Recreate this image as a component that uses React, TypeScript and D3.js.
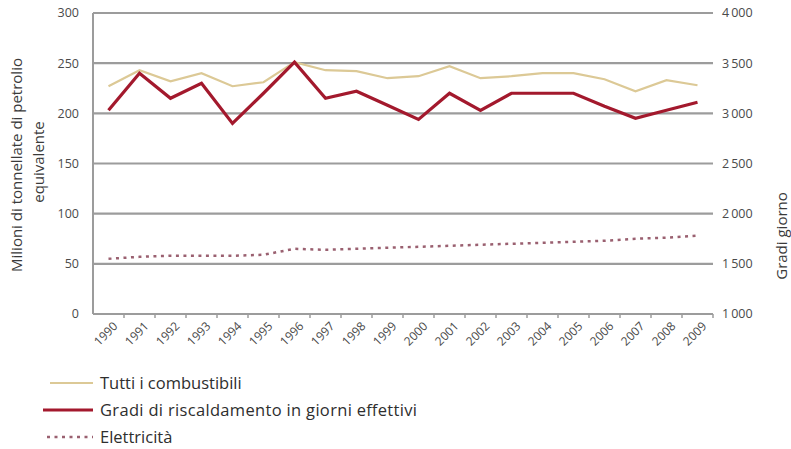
import React from "react";
import * as d3 from "d3";

const years = ["1990","1991","1992","1993","1994","1995","1996","1997","1998","1999","2000","2001","2002","2003","2004","2005","2006","2007","2008","2009"];
const tuttiCombustibili = [227,243,232,240,227,231,251,243,242,235,237,247,235,237,240,240,234,222,233,228];
const gradiGiorno = [3030,3400,3150,3300,2900,3200,3510,3150,3220,3080,2940,3200,3030,3200,3200,3200,3070,2950,3030,3110];
const elettricita = [55,57,58,58,58,59,65,64,65,66,67,68,69,70,71,72,73,75,76,78];
const leftTicks = [0,50,100,150,200,250,300];
const rightTicks = [1000,1500,2000,2500,3000,3500,4000];
const legendLabels = ["Tutti i combustibili","Gradi di riscaldamento in giorni effettivi","Elettricità"];

const W = 791, H = 449;
const X0 = 93, X1 = 713, YT = 13, YB = 314;
const FONT = "'Open Sans', 'Noto Sans', sans-serif";
const TAN = "#dcc996";
const RED = "#a3192d";
const DOT = "#9a6070";
const GRID = "#9c9c9c";

export default function App() {
  const x = d3.scaleBand<string>().domain(years).range([X0, X1]);
  const yL = d3.scaleLinear().domain([0, 300]).range([YB, YT]);
  const yR = d3.scaleLinear().domain([1000, 4000]).range([YB, YT]);
  const cx = (y: string) => (x(y) as number) + x.bandwidth() / 2;
  const lineL = d3.line<number>().x((_, i) => cx(years[i])).y((d) => yL(d));
  const lineR = d3.line<number>().x((_, i) => cx(years[i])).y((d) => yR(d));
  const fmt = (v: number) => (v >= 1000 ? `${Math.floor(v / 1000)}\u2009${String(v % 1000).padStart(3, "0")}` : String(v));

  return (
    <svg width={W} height={H} style={{ position: "absolute", left: 0, top: 0, background: "#fff" }} fontFamily={FONT}>
      {leftTicks.slice(1).map((t) => (
        <line key={t} x1={X0} x2={X1} y1={yL(t)} y2={yL(t)} stroke={GRID} strokeWidth={2.2} />
      ))}
      <line x1={X0} x2={X0} y1={YT} y2={YB} stroke={GRID} strokeWidth={2} />
      <line x1={X0} x2={X1} y1={YB} y2={YB} stroke={GRID} strokeWidth={2.2} />
      {years.map((yr) => (
        <line key={yr} x1={(x(yr) as number) + x.bandwidth()} x2={(x(yr) as number) + x.bandwidth()} y1={YB} y2={YB + 4} stroke={GRID} strokeWidth={1.5} />
      ))}
      {leftTicks.map((t) => (
        <text key={t} x={79} y={yL(t)} dy="0.35em" textAnchor="end" fontSize={12.5} fill="#4a4a4a">{t}</text>
      ))}
      {rightTicks.map((t) => (
        <text key={t} x={722} y={yR(t)} dy="0.35em" textAnchor="start" fontSize={12.5} fill="#4a4a4a">{fmt(t)}</text>
      ))}
      {years.map((yr) => (
        <text key={yr} transform={`translate(${cx(yr) + 7},${YB + 10}) rotate(-45)`} textAnchor="end" dy="0.35em" fontSize={12} fill="#4a4a4a">{yr}</text>
      ))}
      <text transform={`translate(17,165) rotate(-90)`} textAnchor="middle" dy="0.35em" fontSize={15} fill="#3a3a3a">Milioni di tonnellate di petrolio</text>
      <text transform={`translate(39,162) rotate(-90)`} textAnchor="middle" dy="0.35em" fontSize={15} fill="#3a3a3a">equivalente</text>
      <text transform={`translate(782,236) rotate(-90)`} textAnchor="middle" dy="0.35em" fontSize={15} fill="#3a3a3a">Gradi giorno</text>

      <path d={lineL(tuttiCombustibili) || ""} fill="none" stroke={TAN} strokeWidth={2.2} />
      <path d={lineL(elettricita) || ""} fill="none" stroke={DOT} strokeWidth={2.5} strokeDasharray="3,4.5" />
      <path d={lineR(gradiGiorno) || ""} fill="none" stroke={RED} strokeWidth={3.2} strokeLinejoin="miter" />

      {legendLabels.map((lab, i) => {
        const y = 383 + i * 27;
        return (
          <g key={lab}>
            {i === 0 && <line x1={50} x2={93} y1={y} y2={y} stroke={TAN} strokeWidth={2.2} />}
            {i === 1 && <line x1={43} x2={93} y1={y} y2={y} stroke={RED} strokeWidth={3.2} />}
            {i === 2 && <line x1={47} x2={93} y1={y} y2={y} stroke={DOT} strokeWidth={2.5} strokeDasharray="3,4.5" />}
            <text x={100} y={y} dy="0.35em" fontSize={16.5} fill="#2e2e2e" textLength={i === 1 ? 317 : undefined}>{lab}</text>
          </g>
        );
      })}
    </svg>
  );
}
